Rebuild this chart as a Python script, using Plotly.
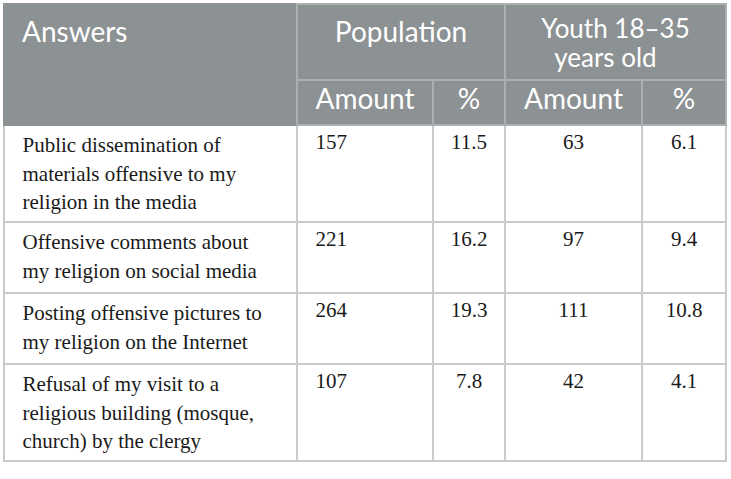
import plotly.graph_objects as go

# table content
answers = [
    "Public dissemination of<br>materials offensive to my<br>religion in the media",
    "Offensive comments about<br>my religion on social media",
    "Posting offensive pictures to<br>my religion on the Internet",
    "Refusal of my visit to a<br>religious building (mosque,<br>church) by the clergy",
]
pop_amount = [157, 221, 264, 107]
pop_pct = [11.5, 16.2, 19.3, 7.8]
youth_amount = [63, 97, 111, 42]
youth_pct = [6.1, 9.4, 10.8, 4.1]

group_labels = ["Answers", "Population", "Youth 18\u201335<br>years old"]
sub_labels = ["", "Amount", "%", "Amount", "%"]

W, H = 731, 479
HEAD = "#8c9193"
HEAD_LINE = "#abafb0"
BODY_LINE = "#c8ccc8"
SANS = "Lato"
SERIF = "Liberation Serif"


def styled(text, size, pad=""):
    # wrap every line in a span: the glyphs get `size`, while the column font
    # size still drives plotly's line spacing
    return "<br>".join(f"<span style='font-size:{size}px'>{pad}{part}</span>"
                       for part in str(text).split("<br>"))


def lowered(text, size, spacer, left="\u2004", right=""):
    # a taller blank in front of the label pushes its baseline down a little
    sp = f"<span style='font-size:{spacer}px'>"
    return f"{sp}{left}</span><span style='font-size:{size}px'>{text}</span>{sp}{right}</span><br>"


# pixel layout of the table box
x0, x1 = 4, 726
y_top, y_split, y_bot = 4, 80, 474
dom_x = [x0 / W, x1 / W]

fig = go.Figure()

# second header row + body
fig.add_trace(go.Table(
    domain=dict(x=dom_x, y=[1 - y_bot / H, 1 - y_split / H]),
    columnwidth=[293, 136, 72, 137, 84],
    header=dict(
        values=sub_labels,
        fill_color=HEAD,
        line=dict(color=[HEAD, HEAD_LINE, HEAD_LINE, HEAD_LINE, HEAD_LINE], width=1.5),
        align="center",
        font=dict(family=SANS, size=28, color="white"),
        height=45,
    ),
    cells=dict(
        values=[
            [styled(a, 21, "\u2002") for a in answers],
            ["\u2002" + str(v) for v in pop_amount],
            [f"{v:.1f}" for v in pop_pct],
            youth_amount,
            [f"{v:.1f}" for v in youth_pct],
        ],
        fill_color="white",
        line=dict(color=BODY_LINE, width=2),
        align=["left", "left", "center", "center", "center"],
        font=dict(family=SERIF, size=[22, 21, 21, 21, 21], color="#1a1a1a"),
        height=71,
    ),
))

# first header row (merged groups), header only
top_row = [lowered(group_labels[0], 28, 30),
           lowered(group_labels[1], 28, 30, "\u200a", "\u200a"),
           styled(group_labels[2].replace("<br>", "<br>\u2002"), 26)]
fig.add_trace(go.Table(
    domain=dict(x=dom_x, y=[1 - y_split / H, 1 - y_top / H]),
    columnwidth=[293, 208, 221],
    header=dict(
        values=top_row,
        fill_color=HEAD,
        line=dict(color=[HEAD, HEAD_LINE, HEAD_LINE], width=1.5),
        align=["left", "center", "center"],
        font=dict(family=SANS, size=[28, 28, 22], color="white"),
        height=76,
    ),
    cells=dict(values=[[], [], []]),
))

fig.update_layout(
    width=W,
    height=H,
    margin=dict(l=0, r=0, t=0, b=0),
    paper_bgcolor="white",
)

# the page body has a default 8px margin, drop it so the figure sits at 0,0
fig.write_html("out.html", config={"displayModeBar": False},
               post_script="document.body.style.margin = '0';")
